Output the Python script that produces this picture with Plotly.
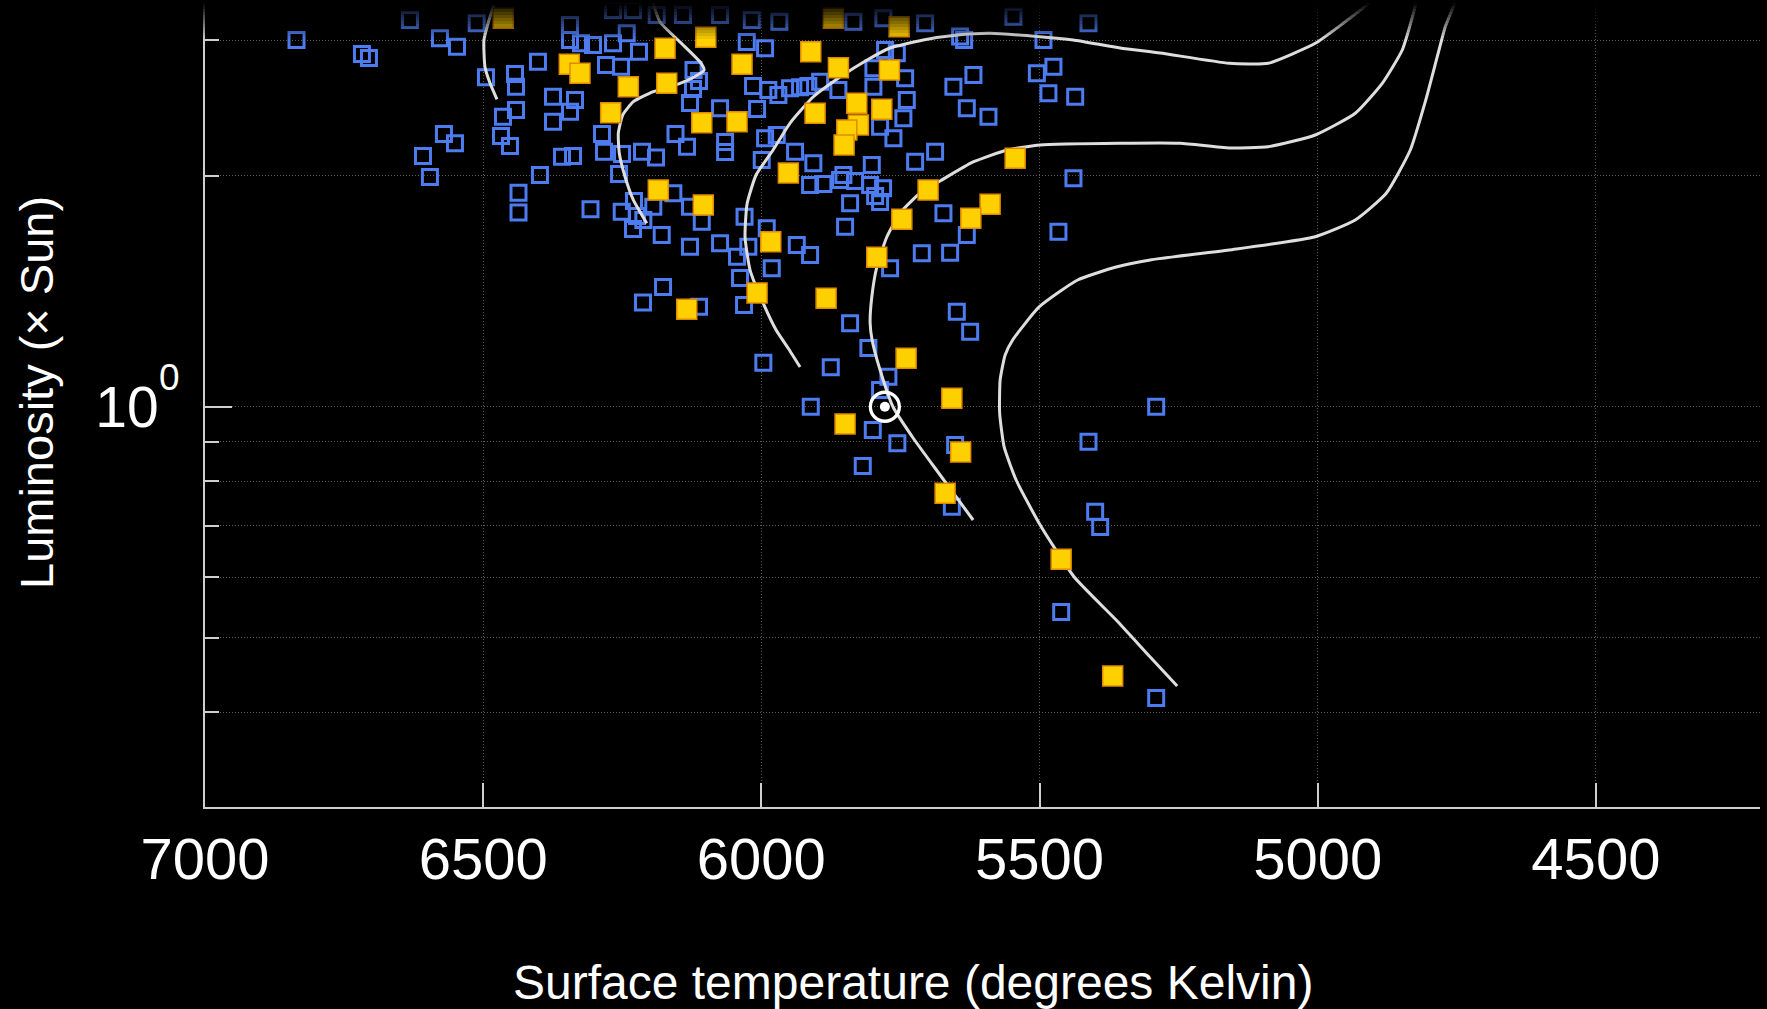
import plotly.graph_objects as go

# ---------------- data (temperature in K, log10 luminosity in solar units) ----------------
blue_temp = [
    6631.6, 6511.7, 6343.9, 6266.6, 6230.7, 6188.1, 6140.8, 6074.2, 6017.2, 5967.6,
    5834.6, 5780.6, 5705.6, 5546.9, 5412.0,
    6835.5, 6717.9, 6705.3, 6577.7, 6547.1, 6495.0, 6442.8, 6441.0, 6401.5, 6343.9,
    6324.2, 6302.6, 6266.6, 6242.0, 6219.9, 6279.2, 6252.2, 6374.5, 6334.9, 6343.9,
    6464.4, 6441.0, 6374.5, 6468.0, 6451.8, 6570.5, 6550.7, 6608.2, 6595.7, 6358.3,
    6338.5, 6397.9, 6286.4, 6282.8, 6250.4, 6214.5, 6189.3, 6255.8, 6154.3, 6133.6,
    6121.9, 6112.0, 6122.8, 6128.2, 6074.2, 6065.2, 6065.2, 6026.2, 6014.9, 6007.7,
    6436.5, 6436.5, 6307.1, 6251.0, 6228.9, 6223.5, 6230.7, 6212.1, 6194.2, 6158.2,
    6179.1, 6128.2, 6128.2, 6107.1, 6074.2, 6043.7, 6030.2, 6023.4, 6038.3, 6031.1,
    6176.7, 6212.7, 6112.0,
    5993.3, 5777.6, 5756.5, 5642.7, 5635.5, 5492.9, 5618.8, 5654.8, 5630.7, 5591.8,
    5504.8, 5475.0, 5484.0, 5435.9, 5798.6, 5741.6, 5798.6, 5738.6, 5744.7, 5786.6,
    5762.6, 5861.5, 5894.4, 5987.4, 5969.4, 5948.4, 5930.4, 5915.5, 5972.3, 5993.3,
    5999.3, 5939.4, 5906.5, 5723.6, 5687.7, 5439.0, 5801.5, 5852.5,
    5912.4, 5888.5, 5858.5, 5831.5, 5804.5, 5781.2, 5795.5, 5786.6, 5840.5, 5849.5,
    5672.7, 5630.7, 5711.6, 5660.7, 5768.6, 5466.0, 5990.3, 5936.3, 5912.4, 5981.3,
    5840.5, 5648.7, 5624.7, 5807.6,
    5996.4, 5875.2, 5771.6, 5786.6, 5911.2, 5799.7, 5755.5, 5817.7, 5651.7, 5657.6,
    5412.0, 5400.0, 5391.0, 5290.3, 5461.1, 5290.3,
]
blue_log_lum = [
    0.5036, 0.4993, 0.4970, 0.5166, 0.5166, 0.5101, 0.5101, 0.5101, 0.5036, 0.5013,
    0.5013, 0.5058, 0.4993, 0.5079, 0.4993,
    0.4775, 0.4593, 0.4541, 0.4797, 0.4688, 0.4290, 0.4332, 0.4167, 0.4493, 0.4775,
    0.4732, 0.4710, 0.4732, 0.4862, 0.4623, 0.4450, 0.4428, 0.4037, 0.3994, 0.3842,
    0.3776, 0.3864, 0.3711, 0.3525, 0.3395, 0.3551, 0.3430, 0.3265, 0.2991, 0.3256,
    0.3265, 0.3017, 0.3551, 0.3321, 0.3291, 0.3321, 0.3245, 0.3030, 0.3551, 0.3386,
    0.4384, 0.4241, 0.4137, 0.3955, 0.3886, 0.3447, 0.3317, 0.4749, 0.4176, 0.3877,
    0.2787, 0.2529, 0.2571, 0.2540, 0.2679, 0.2484, 0.2314, 0.2431, 0.2605, 0.2779,
    0.2236, 0.2084, 0.2605, 0.2409, 0.2128, 0.1954, 0.2474, 0.2084, 0.1676, 0.1325,
    0.1559, 0.1357, 0.1303,
    0.4667, 0.4645, 0.4602, 0.4821, 0.4775, 0.4775, 0.4319, 0.4167, 0.3886, 0.3776,
    0.4342, 0.4428, 0.4081, 0.4037, 0.4407, 0.4277, 0.4167, 0.3994, 0.3756, 0.3646,
    0.3495, 0.4124, 0.4232, 0.4124, 0.4059, 0.4146, 0.4159, 0.4176, 0.3538, 0.3495,
    0.3213, 0.3321, 0.3170, 0.3191, 0.3321, 0.2974, 0.3148, 0.3017,
    0.2887, 0.2900, 0.2952, 0.2939, 0.2887, 0.2844, 0.2744, 0.2666, 0.2649, 0.2344,
    0.2519, 0.2236, 0.1998, 0.2006, 0.1803, 0.2279, 0.2323, 0.2106, 0.1976, 0.1803,
    0.1086, 0.1237, 0.0977, 0.0765,
    0.0573, 0.0513, 0.0391, 0.0218, 0.0000, -0.0303, -0.0476, -0.0772, -0.0498, -0.1302,
    -0.0455, -0.1367, -0.1566, 0.0000, -0.2673, -0.3793,
]

yellow_temp = [
    6463.9, 6345.2, 6326.0, 6239.1, 6270.8, 6173.1, 6170.1, 6099.9, 6034.7, 6107.1,
    6043.7, 5911.2, 5861.5, 5769.8, 5903.4, 5828.5, 5783.5, 5825.6, 5846.4, 5851.3,
    5951.4, 5752.4, 5870.5, 5543.8, 5700.3, 6185.2, 6104.3, 6134.1, 6007.7, 5747.5,
    5588.8, 5623.5, 5983.1, 5792.5, 5883.6, 5739.8, 5657.6, 5849.5, 5641.8, 5669.7,
    5461.1, 5368.5,
]
yellow_log_lum = [
    0.5058, 0.4459, 0.4342, 0.4167, 0.3829, 0.4667, 0.4211, 0.4810, 0.4459, 0.3698,
    0.3711, 0.4623, 0.4415, 0.4384, 0.3821, 0.3951, 0.3873, 0.3668, 0.3603, 0.3408,
    0.3043, 0.4948, 0.5058, 0.3235, 0.2822, 0.2822, 0.2627, 0.1269, 0.1481, 0.2441,
    0.2636, 0.2454, 0.2149, 0.1946, 0.1412, 0.0631, 0.0110, -0.0225, -0.0590, -0.1127,
    -0.1987, -0.3506,
]

# isochrone tracks
iso_a_temp = [6480.6, 6487.8, 6498.6, 6496.8, 6487.8, 6475.2]
iso_a_log_lum = [0.5231, 0.5075, 0.4775, 0.4428, 0.4215, 0.4003]

iso_b_temp = [6196.5, 6182.1, 6146.2, 6110.2, 6103.0, 6124.6, 6146.2, 6194.2, 6230.1,
              6249.2, 6257.1, 6255.3, 6245.0, 6230.1, 6206.0]
iso_b_log_lum = [0.5296, 0.5010, 0.4749, 0.4489, 0.4384, 0.4280, 0.4211, 0.4102, 0.3972,
                 0.3799, 0.3560, 0.3300, 0.2995, 0.2692, 0.2388]

iso_c_temp = [5930.4, 5952.0, 5973.5, 5996.9, 6020.3, 6029.3, 6025.7, 6009.5, 5978.9,
              5948.4, 5907.0, 5858.5, 5809.9, 5768.6, 5709.2, 5648.1, 5588.8, 5498.9,
              5439.5, 5355.0, 5283.1, 5159.1, 5088.9, 5004.4, 4954.1, 4915.4, 4901.9]
iso_c_log_lum = [0.0517, 0.0765, 0.0999, 0.1351, 0.1780, 0.2210, 0.2640, 0.3017, 0.3343,
                 0.3694, 0.4033, 0.4293, 0.4515, 0.4671, 0.4775, 0.4840, 0.4862, 0.4818,
                 0.4775, 0.4671, 0.4606, 0.4472, 0.4472, 0.4732, 0.4993, 0.5209, 0.5296]

iso_d_temp = [5619.3, 5678.7, 5727.2, 5763.2, 5786.6, 5800.9, 5804.5, 5801.5, 5792.5,
              5774.5, 5750.6, 5714.6, 5678.7, 5619.3, 5558.2, 5498.9, 5355.0, 5247.2,
              5159.1, 5088.9, 5004.4, 4932.5, 4884.0, 4848.0, 4826.4, 4822.8]
iso_d_log_lum = [-0.1475, -0.0889, -0.0407, -0.0004, 0.0478, 0.0869, 0.1090, 0.1429, 0.1819,
                 0.2210, 0.2523, 0.2783, 0.2939, 0.3187, 0.3343, 0.3408, 0.3430, 0.3430,
                 0.3369, 0.3386, 0.3538, 0.3821, 0.4211, 0.4645, 0.5166, 0.5296]

iso_e_temp = [5252.6, 5301.1, 5362.2, 5437.7, 5498.9, 5542.0, 5563.6, 5571.7, 5570.8,
              5561.8, 5548.3, 5500.7, 5431.5, 5362.2, 5301.1, 5159.1, 5004.4, 4932.5,
              4876.8, 4833.6, 4805.8, 4785.1, 4770.7, 4756.3, 4752.7]
iso_e_log_lum = [-0.3636, -0.3259, -0.2777, -0.2217, -0.1540, -0.0954, -0.0524, -0.0082, 0.0348,
                 0.0674, 0.0869, 0.1299, 0.1650, 0.1819, 0.1911, 0.2041, 0.2214, 0.2431,
                 0.2779, 0.3343, 0.3994, 0.4558, 0.4948, 0.5209, 0.5296]

sun_temp = [5778]
sun_lum = [1.0]

x_tick_vals = [7000, 6500, 6000, 5500, 5000, 4500]
y_tick_vals = [1]
y_tick_text = ["10"]
y_tick_exponent = "0"
y_minor_vals = [0.4, 0.5, 0.6, 0.7, 0.8, 0.9, 2, 3]

# ---------------- figure ----------------
W, H = 1767, 1009
ML, MR, MT, MB = 205, 7, 0, 202
PW, PH = W - ML - MR, H - MT - MB

def lum(vals):
    return [10 ** v for v in vals]

fig = go.Figure()

fig.add_trace(go.Scatter(
    x=blue_temp, y=lum(blue_log_lum), mode="markers",
    marker=dict(symbol="square-open", size=15, color="#4d7cf0",
                line=dict(color="#4d7cf0", width=3)),
    hoverinfo="skip"))

line_style = dict(color="#dedede", width=3, shape="spline", smoothing=0.5)
for tx, ly in [(iso_a_temp, iso_a_log_lum), (iso_b_temp, iso_b_log_lum),
               (iso_c_temp, iso_c_log_lum), (iso_d_temp, iso_d_log_lum),
               (iso_e_temp, iso_e_log_lum)]:
    fig.add_trace(go.Scatter(x=tx, y=lum(ly), mode="lines", line=line_style,
                             hoverinfo="skip"))

fig.add_trace(go.Scatter(
    x=yellow_temp, y=lum(yellow_log_lum), mode="markers",
    marker=dict(symbol="square", size=20, color="#ffd000",
                line=dict(color="#e08a00", width=1.5)),
    hoverinfo="skip"))

fig.add_trace(go.Scatter(
    x=sun_temp, y=sun_lum, mode="markers",
    marker=dict(symbol="circle-open", size=29, color="white",
                line=dict(color="white", width=3.3)),
    hoverinfo="skip"))
fig.add_trace(go.Scatter(
    x=sun_temp, y=sun_lum, mode="markers",
    marker=dict(symbol="circle", size=10, color="white", line=dict(width=0)),
    hoverinfo="skip"))

grid_col = "#5c5c5c"
axis_col = "#cfcfcf"

fig.update_xaxes(
    range=[7000, 4205], tickvals=x_tick_vals, ticks="inside", ticklen=24,
    tickwidth=1.5, tickcolor=axis_col, showline=True, linecolor=axis_col,
    linewidth=2, showgrid=True, gridcolor=grid_col, gridwidth=1,
    griddash="1px,2px", zeroline=False,
    tickfont=dict(size=58, color="white"), ticklabelstandoff=0)

fig.update_yaxes(
    type="log", range=[-0.5212, 0.5296], tickvals=y_tick_vals, ticktext=y_tick_text,
    ticks="inside", ticklen=27, tickwidth=2, tickcolor=axis_col,
    showline=True, linecolor=axis_col, linewidth=2,
    showgrid=True, gridcolor=grid_col, gridwidth=1, griddash="1px,2px",
    zeroline=False, tickfont=dict(size=57, color="white"), ticklabelstandoff=33,
    minor=dict(tickvals=y_minor_vals, ticks="inside", ticklen=14, tickwidth=2,
               tickcolor=axis_col, showgrid=True, gridcolor=grid_col,
               gridwidth=1, griddash="1px,2px"))

# fade toward the top edge (like the original frame)
shapes = []
band = 3
for i in range(15):
    y0px, y1px = i * band, (i + 1) * band
    mid = (y0px + y1px) / 2
    b = min(max((mid - 3) / 37.0, 0.0), 1.0)
    if b >= 1:
        break
    shapes.append(dict(type="rect", xref="paper", yref="paper",
                       x0=-0.02, x1=1.01, y0=1 - y1px / PH, y1=1 - y0px / PH,
                       fillcolor="black", opacity=1 - b, line=dict(width=0),
                       layer="above"))

def px_x(X):
    return (X - ML) / PW

def px_y(Y):
    return (PH - (Y - MT)) / PH

annotations = [
    dict(text="Surface temperature (degrees Kelvin)", xref="paper", yref="paper",
         x=px_x(913), y=px_y(982), xanchor="center", yanchor="middle",
         showarrow=False, font=dict(size=48, color="white")),
    dict(text="Luminosity (\u00d7 Sun)", xref="paper", yref="paper",
         x=px_x(36), y=px_y(393), xanchor="center", yanchor="middle",
         textangle=-90, showarrow=False, font=dict(size=47, color="white")),
    dict(text=y_tick_exponent, xref="paper", yref="paper",
         x=px_x(169), y=px_y(377), xanchor="center", yanchor="middle",
         showarrow=False, font=dict(size=37, color="white")),
]

fig.update_layout(
    width=W, height=H, margin=dict(l=ML, r=MR, t=MT, b=MB),
    paper_bgcolor="black", plot_bgcolor="black", showlegend=False,
    font=dict(family="Liberation Sans, Arial, Helvetica, sans-serif", color="white"),
    shapes=shapes, annotations=annotations)

fig.write_html("out.html", config={"displayModeBar": False},
               post_script="document.body.style.margin='0';document.body.style.background='black';document.body.style.overflow='hidden';")
